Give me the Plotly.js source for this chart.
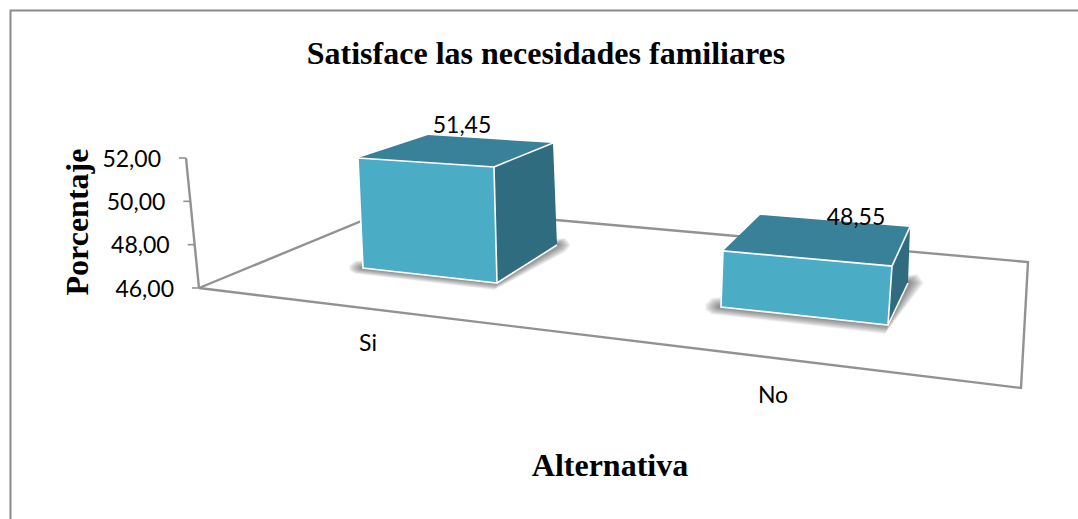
<!DOCTYPE html>
<html>
<head>
<meta charset="utf-8">
<script src="https://cdn.plot.ly/plotly-3.0.1.min.js"></script>
<style>html,body{margin:0;padding:0;background:#fff;overflow:hidden}#chart{width:1078px;height:519px}</style>
</head>
<body>
<div id="chart"></div>
<script>
// ---- data ----
const categories = ["Si", "No"];
const values = [51.45, 48.55];
const tickValues = [46, 48, 50, 52];
const chartTitle = "Satisface las necesidades familiares";
const xTitle = "Alternativa";
const yTitle = "Porcentaje";

// ---- perspective geometry (floor footprint of each bar, rise per value unit) ----
const BASE = 46;
const W = 1078, H = 519, PLOT_L = 142, PLOT_B = 444;
const PX_PER_UNIT = 130 / 6, ZERO_PX = 288;
const geom = [
  { fl:[363,268], fr:[497,283], br:[557,245], bl:[434,233],
    rfl:[-0.92,-20.18], rfr:[-0.55,-21.3], rbr:[-0.73,-18.7], rbl:[-1.1,-18.0],
    label:[462,127], cat:[368,345], shadow:[14,7] },
  { fl:[721,307], fr:[888,325], br:[908,283], bl:[758,271],
    rfl:[0.78,-22], rfr:[1.57,-23.1], rbr:[0.78,-22], rbl:[0.78,-22],
    label:[856,219], cat:[773,397], shadow:[16,9] }
];
const floorPath = [[199,288],[1021,388],[1028,262],[398,206],[199,288]];
const axisTop = {x:186}, axisBottom = {x:199};
const LABEL_GAP = 25, LABEL_DROP = 3 / (130 / 6);
const SHADOW_LAYERS = 14;

const C_FRONT = "#4BACC6", C_TOP = "#388199", C_SIDE = "#2F6C7F", C_LINE = "#929292";

// pixel-like y -> value on the value axis
const v = px => BASE + (ZERO_PX - px) / PX_PER_UNIT;
const tx = pts => pts.map(p => p[0]);
const ty = pts => pts.map(p => v(p[1]));
const traces = [];
function line(pts, color, width) {
  traces.push({type:"scatter", mode:"lines", x:tx(pts), y:ty(pts), showlegend:false, hoverinfo:"skip",
    line:{color, width, simplify:false}});
}
function poly(pts, color) {
  const c = pts.concat([pts[0]]);
  traces.push({type:"scatter", mode:"lines", x:tx(c), y:ty(c), fill:"toself", fillcolor:color,
    showlegend:false, hoverinfo:"skip", line:{width:0, color:color}});
}
function text(xs, ys, strs, pos, size) {
  traces.push({type:"scatter", mode:"text", x:xs, y:ys, text:strs, textposition:pos, cliponaxis:false,
    showlegend:false, hoverinfo:"skip", textfont:{family:"Lato, Carlito, sans-serif", size:size, color:"#000"}});
}

// floor and wall axis
line(floorPath, C_LINE, 2.4);
const axX = t => axisBottom.x + (axisTop.x - axisBottom.x) * (t - tickValues[0]) / (tickValues[tickValues.length-1] - tickValues[0]);
traces.push({type:"scatter", mode:"lines",
  x:[axX(tickValues[0]), axX(tickValues[tickValues.length-1])],
  y:[tickValues[0], tickValues[tickValues.length-1]],
  showlegend:false, hoverinfo:"skip", line:{color:C_LINE, width:2.4}});
tickValues.forEach(t => {
  traces.push({type:"scatter", mode:"lines", x:[axX(t)-7, axX(t)], y:[t, t],
    showlegend:false, hoverinfo:"skip", line:{color:C_LINE, width:1.6}});
});

// bars
values.forEach((val, i) => {
  const g = geom[i], d = val - BASE;
  const up = (b, r) => [b[0] + r[0]*d, b[1] + r[1]*d];
  const tfl = up(g.fl,g.rfl), tfr = up(g.fr,g.rfr), tbr = up(g.br,g.rbr), tbl = up(g.bl,g.rbl);
  // soft shadow: stacked translucent footprints
  for (let k = SHADOW_LAYERS; k >= 1; k--) {
    const f = k / SHADOW_LAYERS, sx = g.shadow[0]*f, sy = g.shadow[1]*f;
    poly([[g.fl[0]-sx, g.fl[1]+sy*0.3],[g.fl[0]-sx*0.6, g.fl[1]+sy*0.8],[g.fr[0]-sx*0.2, g.fr[1]+sy],
          [g.br[0]+sx*0.6, g.br[1]+sy],[g.br[0]+sx, g.br[1]],[g.br[0]+sx*0.6, g.br[1]-sy],
          [g.fl[0]-sx*0.6, g.fl[1]-sy],[g.fl[0]-sx, g.fl[1]-sy*0.3]], "rgba(30,30,30,0.05)");
  }
  poly([g.fl, g.fr, tfr, tfl], C_FRONT);
  poly([g.fr, g.br, tbr, tfr], C_SIDE);
  poly([tfl, tfr, tbr, tbl], C_TOP);
  line([tfl, tfr, g.fr, g.fl, tfl], "#FFFFFF", 1.6);
  line([tfr, tbr], "#FFFFFF", 1.6);
  line([g.fr, g.br], "#FFFFFF", 1.6);
});

// tick labels, category labels, value labels
text(tickValues.map(t => axX(t) - LABEL_GAP), tickValues.map(t => t - LABEL_DROP), tickValues.map(t => t.toFixed(2).replace(".", ",")), "middle left", 23);
text(geom.map(g => g.cat[0]), geom.map(g => v(g.cat[1])), categories, "middle center", 23);
text(geom.map(g => g.label[0]), geom.map(g => v(g.label[1])), values.map(x => x.toFixed(2).replace(".", ",")), "middle center", 23);

const px = x => (x - PLOT_L) / (W - PLOT_L);
const py = y => (PLOT_B - y) / PLOT_B;
const layout = {
  width:W, height:H, autosize:false,
  paper_bgcolor:"#fff", plot_bgcolor:"rgba(0,0,0,0)",
  margin:{l:PLOT_L, r:0, t:0, b:H-PLOT_B, pad:0},
  showlegend:false,
  title:{text:chartTitle, x:(546)/W, xanchor:"center", y:1-53/H, yanchor:"middle",
    font:{family:"Liberation Serif, serif", size:32, color:"#000", weight:700}},
  xaxis:{range:[PLOT_L, W], showgrid:false, zeroline:false, showline:false, showticklabels:false, ticks:"",
    title:{text:xTitle, standoff:9, font:{family:"Liberation Serif, serif", size:32, color:"#000", weight:700}}},
  yaxis:{range:[v(PLOT_B), v(0)], showgrid:false, zeroline:false, showline:false, showticklabels:false, ticks:"",
    title:{text:yTitle, standoff:42, font:{family:"Liberation Serif, serif", size:32, color:"#000", weight:700}}},
  shapes:[{type:"path", xref:"paper", yref:"paper",
    path:`M ${px(10.5)} ${py(H)} L ${px(10.5)} ${py(10.5)} L ${px(W)} ${py(10.5)}`,
    line:{color:"#8A8A8A", width:2}}]
};
Plotly.newPlot("chart", traces, layout, {displayModeBar:false, staticPlot:true});
</script>
</body>
</html>
